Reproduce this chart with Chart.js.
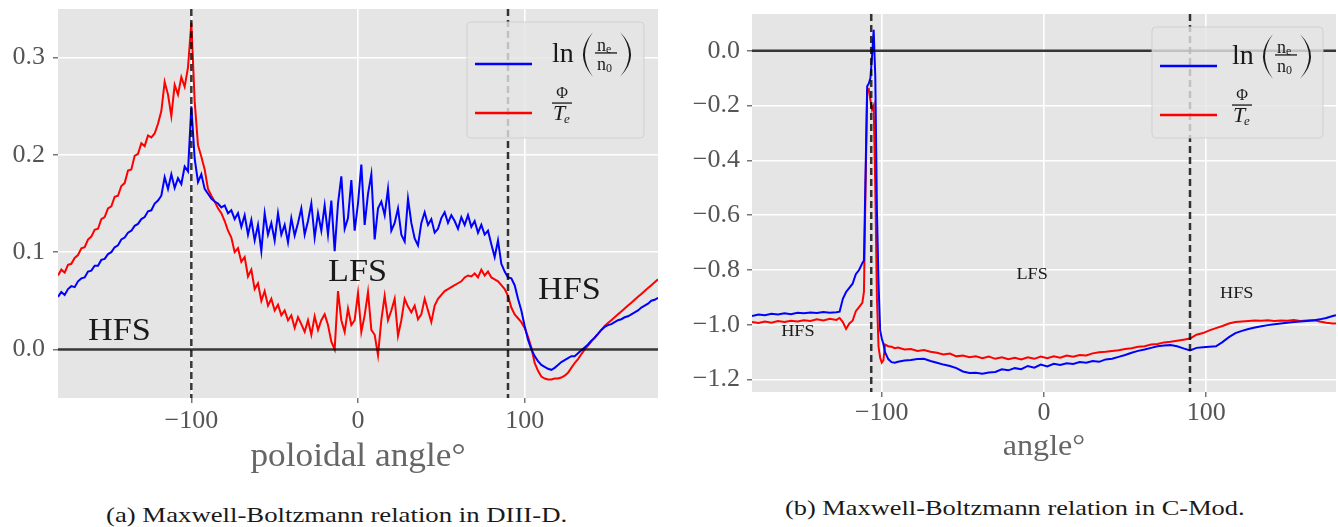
<!DOCTYPE html>
<html><head><meta charset="utf-8">
<script src="https://cdn.jsdelivr.net/npm/chart.js@4.4.1/dist/chart.umd.min.js"></script>
<style>
html,body{margin:0;padding:0;background:#fff}
body{width:1338px;height:527px;position:relative;overflow:hidden;font-family:"Liberation Serif",serif}
#c1{position:absolute;left:0;top:0}
#c2{position:absolute;left:670px;top:0}
.cap{position:absolute;font-family:"Liberation Serif",serif;font-size:21px;color:#1a1a1a;white-space:nowrap;transform-origin:0 50%;line-height:24px}
</style></head><body>
<canvas id="c1" width="670" height="480"></canvas>
<canvas id="c2" width="668" height="480"></canvas>
<div class="cap" id="capA">(a) Maxwell-Boltzmann relation in DIII-D.</div>
<div class="cap" id="capB">(b) Maxwell-Boltzmann relation in C-Mod.</div>
<script>
// ---------- data ----------
const seriesNames = ['ln(nₑ/n₀)', 'Φ/Tₑ'];
const xTicks = [-100, 0, 100];
const xTickLabels = ['−100', '0', '100'];
const yTicksA = [0, 0.1, 0.2, 0.3];
const yTickLabelsA = ['0.0', '0.1', '0.2', '0.3'];
const yTicksB = [-1.2, -1.0, -0.8, -0.6, -0.4, -0.2, 0];
const yTickLabelsB = ['−1.2', '−1.0', '−0.8', '−0.6', '−0.4', '−0.2', '0.0'];
const xTitleA = 'poloidal angle°';
const xTitleB = 'angle°';

// DIII-D (panel a)
const anglesA = [-180,-178,-176,-174,-172,-170,-168,-166,-164,-162,-160,-158,-156,-154,-152,-150,-148,-146,-144,-142,-140,-138,-136,-134,-132,-130,-128,-126,-124,-122,-120,-118,-116,-114,-112,-110,-108,-106,-104,-102,-100,-98,-96,-94,-92,-90,-88,-86,-84,-82,-80,-78,-76,-74,-72,-70,-68,-66,-64,-62,-60,-58,-56,-54,-52,-50,-48,-46,-44,-42,-40,-38,-36,-34,-32,-30,-28,-26,-24,-22,-20,-18,-16,-14,-12,-10,-8,-6,-4,-2,0,2,4,6,8,10,12,14,16,18,20,22,24,26,28,30,32,34,36,38,40,42,44,46,48,50,52,54,56,58,60,62,64,66,68,70,72,74,76,78,80,82,84,86,88,90,92,94,96,98,100,102,104,106,108,110,112,114,116,118,120,122,124,126,128,130,132,134,136,138,140,142,144,146,148,150,152,154,156,158,160,162,164,166,168,170,172,174,176,178,180];
const lnA = [0.054,0.059,0.056,0.062,0.065,0.064,0.070,0.073,0.074,0.080,
 0.081,0.086,0.086,0.092,0.093,0.098,0.100,0.105,0.107,0.113,
 0.115,0.120,0.122,0.127,0.129,0.134,0.136,0.142,0.143,0.150,
 0.153,0.158,0.177,0.165,0.180,0.166,0.176,0.170,0.188,0.183,
 0.250,0.196,0.172,0.180,0.165,0.160,0.155,0.152,0.150,0.146,
 0.148,0.140,0.143,0.134,0.140,0.126,0.138,0.118,0.133,0.112,
 0.128,0.101,0.140,0.118,0.130,0.112,0.140,0.118,0.128,0.110,
 0.135,0.117,0.130,0.145,0.118,0.132,0.150,0.115,0.140,0.122,
 0.148,0.118,0.153,0.101,0.150,0.178,0.124,0.135,0.174,0.122,
 0.150,0.190,0.128,0.160,0.180,0.113,0.145,0.152,0.138,0.165,
 0.122,0.130,0.145,0.118,0.111,0.155,0.130,0.114,0.107,0.130,
 0.141,0.128,0.134,0.120,0.124,0.135,0.141,0.130,0.138,0.132,
 0.124,0.136,0.128,0.138,0.126,0.132,0.120,0.128,0.118,0.122,
 0.108,0.095,0.112,0.088,0.080,0.074,0.073,0.066,0.052,0.040,
 0.024,0.010,0.000,-0.007,-0.012,-0.016,-0.018,-0.020,-0.021,-0.019,
 -0.016,-0.013,-0.011,-0.009,-0.007,-0.007,-0.004,-0.001,0.002,0.005,
 0.009,0.012,0.016,0.020,0.023,0.025,0.026,0.028,0.030,0.031,
 0.033,0.034,0.036,0.038,0.040,0.043,0.045,0.047,0.050,0.051,
 0.053];
const phiA = [0.076,0.082,0.079,0.087,0.088,0.094,0.097,0.104,0.105,0.113,
 0.116,0.123,0.124,0.134,0.136,0.145,0.147,0.157,0.158,0.168,
 0.171,0.184,0.185,0.199,0.201,0.212,0.209,0.220,0.218,0.222,
 0.232,0.245,0.275,0.262,0.240,0.272,0.262,0.280,0.270,0.290,
 0.336,0.255,0.210,0.198,0.185,0.165,0.158,0.152,0.145,0.140,
 0.132,0.122,0.115,0.100,0.104,0.090,0.095,0.075,0.082,0.062,
 0.068,0.050,0.060,0.045,0.052,0.040,0.046,0.035,0.040,0.030,
 0.035,0.022,0.033,0.026,0.018,0.030,0.015,0.034,0.020,0.030,
 0.036,0.025,0.008,0.000,0.060,0.030,0.018,0.042,0.025,0.030,
 0.058,0.018,0.035,0.059,0.020,0.015,-0.006,0.030,0.055,0.030,
 0.040,0.052,0.014,0.030,0.052,0.044,0.038,0.045,0.031,0.036,
 0.052,0.040,0.028,0.045,0.052,0.056,0.060,0.062,0.064,0.066,
 0.068,0.070,0.074,0.076,0.075,0.078,0.074,0.082,0.076,0.080,
 0.074,0.072,0.070,0.066,0.062,0.055,0.043,0.036,0.032,0.028,
 0.022,0.013,0.002,-0.014,-0.022,-0.028,-0.030,-0.031,-0.031,-0.030,
 -0.030,-0.029,-0.027,-0.024,-0.019,-0.014,-0.010,-0.005,0.000,0.004,
 0.008,0.012,0.016,0.020,0.024,0.027,0.030,0.033,0.036,0.039,
 0.042,0.045,0.048,0.051,0.054,0.057,0.060,0.063,0.066,0.069,
 0.072];
const vlinesA = [-100, 90];
const annotTextA = ['HFS', 'LFS', 'HFS'];
const annotXA = [-162, -18, 108];
const annotYA = [0.010, 0.070, 0.052];

// C-Mod (panel b)
const anglesB = [-180,-176,-172,-168,-164,-160,-156,-152,-148,-144,-140,-136,-132,-128,
 -126,-124,-122,-120,-118,-116,-114,-112,-111,-110,-109,-108,-107,-106,-105,-104,-103,-102,-101,-100,-99,-98,-96,-94,-92,-90,
 -86,-82,-78,-74,-70,-66,-62,-58,-54,-50,-46,-42,-38,-34,-30,-26,-22,-18,-14,-10,-6,-2,2,6,10,14,18,22,26,30,34,38,42,46,50,54,58,62,66,70,74,78,82,86,90,94,98,102,106,110,114,118,122,126,130,134,138,142,146,150,154,158,162,166,170,174,178,180];
const lnB = [-0.968,-0.962,-0.965,-0.960,-0.962,-0.958,-0.961,-0.956,-0.958,-0.955,-0.957,-0.953,-0.956,-0.954,
 -0.952,-0.905,-0.880,-0.865,-0.850,-0.815,-0.800,-0.775,-0.765,-0.450,-0.130,-0.120,-0.100,-0.020,0.076,-0.095,-0.580,-0.850,-1.020,-1.050,-1.070,-1.100,-1.125,-1.136,-1.138,-1.135,
 -1.130,-1.128,-1.125,-1.124,-1.132,-1.138,-1.145,-1.150,-1.158,-1.170,
 -1.176,-1.175,-1.178,-1.174,-1.172,-1.162,-1.166,-1.158,-1.162,-1.150,
 -1.156,-1.145,-1.152,-1.142,-1.146,-1.140,-1.143,-1.136,-1.138,-1.132,
 -1.135,-1.126,-1.124,-1.117,-1.110,-1.102,-1.095,-1.090,-1.084,-1.078,
 -1.075,-1.074,-1.078,-1.086,-1.093,-1.084,-1.082,-1.080,-1.078,-1.063,
 -1.045,-1.030,-1.022,-1.015,-1.010,-1.005,-1.001,-0.998,-0.995,-0.992,
 -0.990,-0.988,-0.986,-0.984,-0.980,-0.975,-0.968,-0.965];
const phiB = [-0.990,-0.993,-0.988,-0.992,-0.986,-0.990,-0.985,-0.988,-0.983,-0.986,-0.980,-0.984,-0.978,-0.982,
 -0.975,-0.990,-1.015,-0.995,-0.985,-0.950,-0.935,-0.920,-0.880,-0.500,-0.145,-0.140,-0.180,-0.215,-0.200,-0.500,-0.900,-1.080,-1.120,-1.138,-1.130,-1.072,-1.078,-1.080,-1.085,-1.083,
 -1.090,-1.088,-1.095,-1.092,-1.098,-1.102,-1.108,-1.105,-1.115,-1.112,
 -1.118,-1.115,-1.122,-1.116,-1.124,-1.118,-1.125,-1.120,-1.126,-1.118,
 -1.124,-1.116,-1.122,-1.115,-1.120,-1.112,-1.116,-1.110,-1.112,-1.104,
 -1.100,-1.098,-1.095,-1.093,-1.088,-1.085,-1.080,-1.078,-1.072,-1.070,
 -1.064,-1.062,-1.058,-1.054,-1.050,-1.036,-1.030,-1.020,-1.012,-1.004,
 -0.995,-0.990,-0.988,-0.986,-0.984,-0.985,-0.983,-0.986,-0.984,-0.985,
 -0.982,-0.986,-0.984,-0.982,-0.988,-0.992,-0.995,-0.995];
const vlinesB = [-106.5, 90];
const annotTextB = ['HFS', 'LFS', 'HFS'];
const annotXB = [-162, -17, 108.5];
const annotYB = [-1.042, -0.834, -0.903];

// ---------- drawing ----------
const SERIF = '"Liberation Serif", "Times New Roman", serif';
const STRETCH = 1.07;
Chart.defaults.font.family = SERIF;

function stretchText(ctx, txt, x, y, align) {
  const w = ctx.measureText(txt).width * STRETCH;
  let x0 = x;
  if (align === 'center') x0 = x - w / 2;
  ctx.save();
  ctx.translate(x0, y);
  ctx.scale(STRETCH, 1);
  ctx.textAlign = 'left';
  ctx.fillText(txt, 0, 0);
  ctx.restore();
}

function paren(ctx, x0, x1, y0, y1, open) {
  const ym = (y0 + y1) / 2, th = 2.0;
  ctx.beginPath();
  if (open) {
    ctx.moveTo(x1, y0);
    ctx.quadraticCurveTo(2 * x0 - x1, ym, x1, y1);
    ctx.quadraticCurveTo(2 * (x0 + th) - x1, ym, x1, y0);
  } else {
    ctx.moveTo(x0, y0);
    ctx.quadraticCurveTo(2 * x1 - x0, ym, x0, y1);
    ctx.quadraticCurveTo(2 * (x1 - th) - x0, ym, x0, y0);
  }
  ctx.fill();
}

function drawLegend(ctx, L) {
  const { bx, by, bw, bh, r1, r2, tx } = L;
  ctx.save();
  const r = 4;
  ctx.beginPath();
  ctx.moveTo(bx + r, by);
  ctx.arcTo(bx + bw, by, bx + bw, by + bh, r);
  ctx.arcTo(bx + bw, by + bh, bx, by + bh, r);
  ctx.arcTo(bx, by + bh, bx, by, r);
  ctx.arcTo(bx, by, bx + bw, by, r);
  ctx.closePath();
  ctx.fillStyle = 'rgba(229,229,229,0.8)';
  ctx.fill();
  ctx.strokeStyle = 'rgba(204,204,204,0.8)';
  ctx.lineWidth = 1;
  ctx.stroke();
  ctx.lineWidth = 2.5;
  ctx.strokeStyle = '#0000ff';
  ctx.beginPath(); ctx.moveTo(bx + 8, r1); ctx.lineTo(bx + 65, r1); ctx.stroke();
  ctx.strokeStyle = '#ff0000';
  ctx.beginPath(); ctx.moveTo(bx + 8, r2); ctx.lineTo(bx + 65, r2); ctx.stroke();

  ctx.fillStyle = '#1a1a1a';
  ctx.textBaseline = 'alphabetic';
  ctx.textAlign = 'left';
  ctx.font = '28px ' + SERIF;
  ctx.fillText('ln', tx, r1 - 2);
  paren(ctx, tx + 31, tx + 41, r1 - 32, r1 + 13, true);
  ctx.font = '18px ' + SERIF;
  ctx.fillText('n', tx + 45, r1 - 13);
  ctx.font = '12px ' + SERIF;
  ctx.fillText('e', tx + 54, r1 - 11);
  ctx.fillRect(tx + 43, r1 - 11.7, 22, 1.3);
  ctx.font = '18px ' + SERIF;
  ctx.fillText('n', tx + 45, r1 + 6);
  ctx.font = '12px ' + SERIF;
  ctx.fillText('0', tx + 54, r1 + 8);
  paren(ctx, tx + 68, tx + 79, r1 - 32, r1 + 13, false);

  ctx.textAlign = 'center';
  ctx.font = '16px ' + SERIF;
  ctx.fillText('Φ', tx + 10, r2 - 15);
  ctx.fillRect(tx, r2 - 10.6, 20, 1.3);
  ctx.textAlign = 'left';
  ctx.font = 'italic 22px ' + SERIF;
  ctx.fillText('T', tx + 1, r2 + 7);
  ctx.font = 'italic 13px ' + SERIF;
  ctx.fillText('e', tx + 12, r2 + 10);
  ctx.restore();
}

const bgPlugin = {
  id: 'bg',
  beforeDraw(chart) {
    const { ctx, chartArea: a } = chart;
    ctx.save();
    ctx.fillStyle = '#e5e5e5';
    ctx.fillRect(a.left, a.top, a.right - a.left, a.bottom - a.top);
    ctx.restore();
  }
};

function overlayPlugin(cfg) {
  return {
    id: 'overlay',
    afterDatasetsDraw(chart) {
      const { ctx, chartArea: a, scales: { x, y } } = chart;
      ctx.save();
      ctx.beginPath();
      ctx.rect(a.left, a.top, a.right - a.left, a.bottom - a.top);
      ctx.clip();
      ctx.strokeStyle = 'rgba(0,0,0,0.78)';
      ctx.lineWidth = 2.5;
      const y0 = y.getPixelForValue(0);
      ctx.beginPath(); ctx.moveTo(a.left, y0); ctx.lineTo(a.right, y0); ctx.stroke();
      ctx.setLineDash([7, 4]);
      cfg.vlines.forEach(v => {
        const px = x.getPixelForValue(v);
        ctx.beginPath(); ctx.moveTo(px, a.top); ctx.lineTo(px, a.bottom); ctx.stroke();
      });
      ctx.setLineDash([]);
      ctx.fillStyle = '#1a1a1a';
      ctx.textBaseline = 'alphabetic';
      ctx.font = cfg.annotSize + 'px ' + SERIF;
      cfg.annotText.forEach((t, i) => {
        stretchText(ctx, t, x.getPixelForValue(cfg.annotX[i]), y.getPixelForValue(cfg.annotY[i]), 'left');
      });
      ctx.restore();
    },
    afterDraw(chart) {
      const { ctx, chartArea: a } = chart;
      ctx.save();
      ctx.fillStyle = '#666';
      ctx.textBaseline = 'alphabetic';
      ctx.font = cfg.titleSize + 'px ' + SERIF;
      stretchText(ctx, cfg.title, (a.left + a.right) / 2, a.bottom + cfg.titleOff, 'center');
      ctx.restore();
      drawLegend(ctx, cfg.legend);
    }
  };
}

function makeChart(id, cfg) {
  return new Chart(document.getElementById(id), {
    type: 'line',
    data: {
      datasets: [
        { label: seriesNames[0], data: cfg.angles.map((v, i) => ({ x: v, y: cfg.blue[i] })), borderColor: '#0000ff', borderWidth: 2, pointRadius: 0, tension: 0, fill: false },
        { label: seriesNames[1], data: cfg.angles.map((v, i) => ({ x: v, y: cfg.red[i] })), borderColor: '#ff0000', borderWidth: 2, pointRadius: 0, tension: 0, fill: false }
      ]
    },
    options: {
      responsive: false, animation: false, devicePixelRatio: 1,
      layout: { padding: { top: cfg.padTop, right: cfg.padRight, left: 0, bottom: 0 } },
      plugins: { legend: { display: false }, tooltip: { enabled: false } },
      scales: {
        x: {
          type: 'linear', min: -180, max: 180,
          afterBuildTicks: s => { s.ticks = xTicks.map(v => ({ value: v })); },
          afterFit: s => { s.height = cfg.xH; s.paddingLeft = 0; s.paddingRight = 0; },
          ticks: { callback: (v, i) => xTickLabels[i], font: { family: SERIF, size: cfg.tickSize }, color: '#555', padding: cfg.xPad, maxRotation: 0, autoSkip: false },
          grid: { color: '#ffffff', lineWidth: 1.6, tickColor: '#555', tickLength: 5, tickWidth: 1.2 },
          border: { display: false }
        },
        y: {
          type: 'linear', min: cfg.yMin, max: cfg.yMax,
          afterBuildTicks: s => { s.ticks = cfg.yTicks.map(v => ({ value: v })); },
          afterFit: s => { s.width = cfg.yW; s.paddingTop = 0; s.paddingBottom = 0; },
          ticks: { callback: (v, i) => cfg.yLabels[i], font: { family: SERIF, size: cfg.tickSize }, color: '#555', padding: cfg.yPad, autoSkip: false },
          grid: { color: '#ffffff', lineWidth: 1.6, tickColor: '#555', tickLength: 5, tickWidth: 1.2 },
          border: { display: false }
        }
      }
    },
    plugins: [bgPlugin, overlayPlugin(cfg)]
  });
}

makeChart('c1', {
  angles: anglesA, blue: lnA, red: phiA,
  yMin: -0.05, yMax: 0.35, yTicks: yTicksA, yLabels: yTickLabelsA,
  padTop: 9, padRight: 12, xH: 82, yW: 58, xPad: 3, yPad: 8, tickSize: 26,
  vlines: vlinesA, annotText: annotTextA, annotX: annotXA, annotY: annotYA, annotSize: 32,
  title: xTitleA, titleSize: 33, titleOff: 68,
  legend: { bx: 467, by: 22, bw: 177, bh: 116, r1: 64, r2: 113, tx: 552 }
});
makeChart('c2', {
  angles: anglesB, blue: lnB, red: phiB,
  yMin: -1.245, yMax: 0.134, yTicks: yTicksB, yLabels: yTickLabelsB,
  padTop: 14, padRight: 2, xH: 88, yW: 82, xPad: 1, yPad: 7, tickSize: 26,
  vlines: vlinesB, annotText: annotTextB, annotX: annotXB, annotY: annotYB, annotSize: 17,
  title: xTitleB, titleSize: 30, titleOff: 63,
  legend: { bx: 482, by: 27, bw: 171, bh: 111, r1: 66, r2: 115, tx: 562 }
});

function placeCaption(id, left, centerY, width) {
  const el = document.getElementById(id);
  const w = el.offsetWidth;
  el.style.left = left + 'px';
  el.style.top = (centerY - 12) + 'px';
  el.style.transform = 'scaleX(' + (width / w) + ')';
}
placeCaption('capA', 106, 515, 461);
placeCaption('capB', 785, 508, 460);
</script>
</body></html>
